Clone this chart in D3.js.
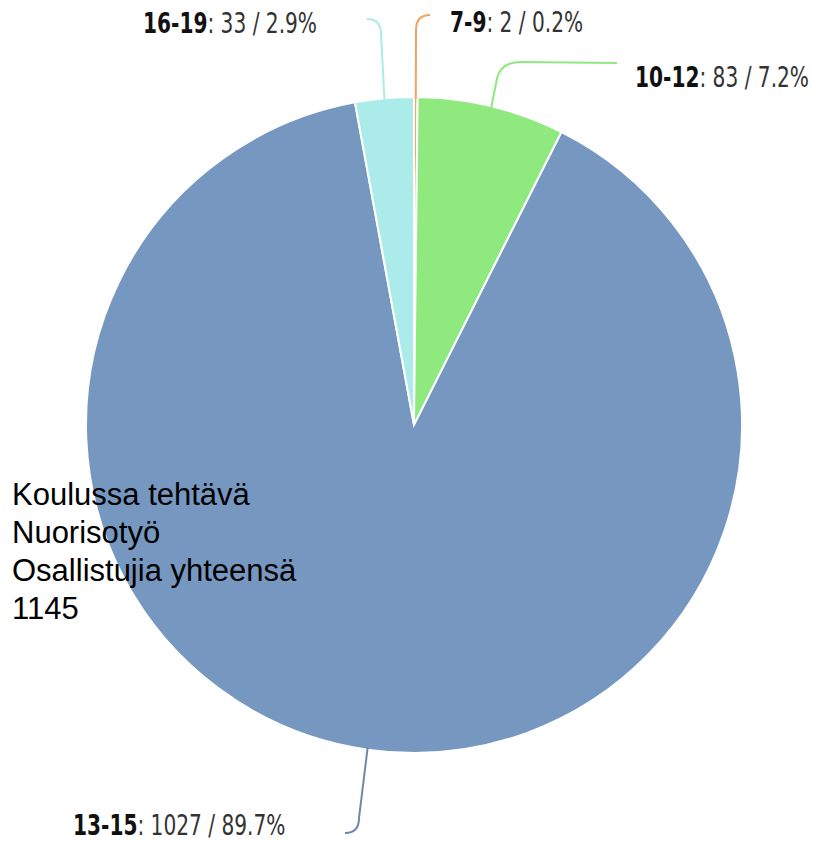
<!DOCTYPE html>
<html>
<head>
<meta charset="utf-8">
<script src="https://cdn.jsdelivr.net/npm/d3@7"></script>
<style>
  body { margin: 0; background: #fff; }
</style>
</head>
<body>
<div id="chart"></div>
<script>
// age groups, in clockwise order from 12 o'clock
const groups = ["7-9", "10-12", "13-15", "16-19"];
const counts = [2, 83, 1027, 33];
const percents = ["0.2%", "7.2%", "89.7%", "2.9%"];
const sliceColors = ["#f3a262", "#8fe97f", "#7698c0", "#abecea"];
const titleLines = ["Koulussa tehtävä", "Nuorisotyö", "Osallistujia yhteensä", "1145"];

function drawChart() {
  const width = 813, height = 842;
  const cx = 414, cy = 425, radius = 328;

  const svg = d3.select("#chart").append("svg")
      .attr("width", width)
      .attr("height", height);

  const pie = d3.pie().sort(null).value(d => d);
  const arcs = pie(counts);
  const arc = d3.arc().innerRadius(0).outerRadius(radius);

  const g = svg.append("g").attr("transform", `translate(${cx},${cy})`);

  g.selectAll("path.slice")
    .data(arcs)
    .join("path")
      .attr("class", "slice")
      .attr("d", arc)
      .style("fill", (d, i) => sliceColors[i])
      .style("stroke", "#fff")
      .style("stroke-width", 2);

  // --- label placement (layout only) ---
  // x, baseline, end point of the leader line, which way the leader bends
  const labelLayout = [
    { x: 450, y: 32, ex: 430, ey: 15, dir: 1 },
    { x: 635, y: 87, ex: 617, ey: 63, dir: 1 },
    { x: 73,  y: 835, ex: 345, ey: 833, dir: -1 },
    { x: 143, y: 33, ex: 367, ey: 19, dir: -1 }
  ];
  const squeeze = 0.8; // narrow look of the label font

  arcs.forEach((d, i) => {
    const L = labelLayout[i];
    const a = (d.startAngle + d.endAngle) / 2;
    const sx = cx + Math.sin(a) * (radius - 2);
    const sy = cy - Math.cos(a) * (radius - 2);
    const p = d3.path();
    p.moveTo(sx, sy);
    const up = L.ey < sy;
    const bend = 15;
    if (i === 1) {
      // goes up, bends right then runs flat to the label
      p.lineTo(sx + 6, L.ey + bend);
      p.quadraticCurveTo(sx + 10, L.ey - 1, sx + 30, L.ey - 1);
      p.lineTo(L.ex, L.ey);
    } else {
      const vx = L.ex - L.dir * 14;
      p.lineTo(vx, up ? L.ey + bend : L.ey - bend);
      p.quadraticCurveTo(vx, L.ey, L.ex, L.ey);
    }
    svg.append("path")
      .attr("d", p.toString())
      .style("fill", "none")
      .style("stroke", i === 2 ? "#6c89ad" : sliceColors[i])
      .style("stroke-width", 2);

    const t = svg.append("text")
      .attr("transform", `translate(${L.x},${L.y}) scale(${squeeze},1)`)
      .style("font-family", "'Liberation Sans Narrow', 'DejaVu Sans Condensed', sans-serif")
      .style("font-size", "28px");
    t.append("tspan")
      .style("font-weight", "bold")
      .style("fill", "#111")
      .text(groups[i]);
    t.append("tspan")
      .style("fill", "#333")
      .text(`: ${counts[i]} / ${percents[i]}`);
  });

  // --- Title block on the left ---
  svg.append("g").selectAll("text")
    .data(titleLines)
    .join("text")
      .attr("x", 12)
      .attr("y", (d, i) => 505 + i * 38)
      .style("font-family", "'Liberation Sans', Arial, sans-serif")
      .style("font-size", "31px")
      .style("fill", "#000")
      .text(d => d);
}

document.addEventListener('DOMContentLoaded', drawChart);
</script>
</body>
</html>
